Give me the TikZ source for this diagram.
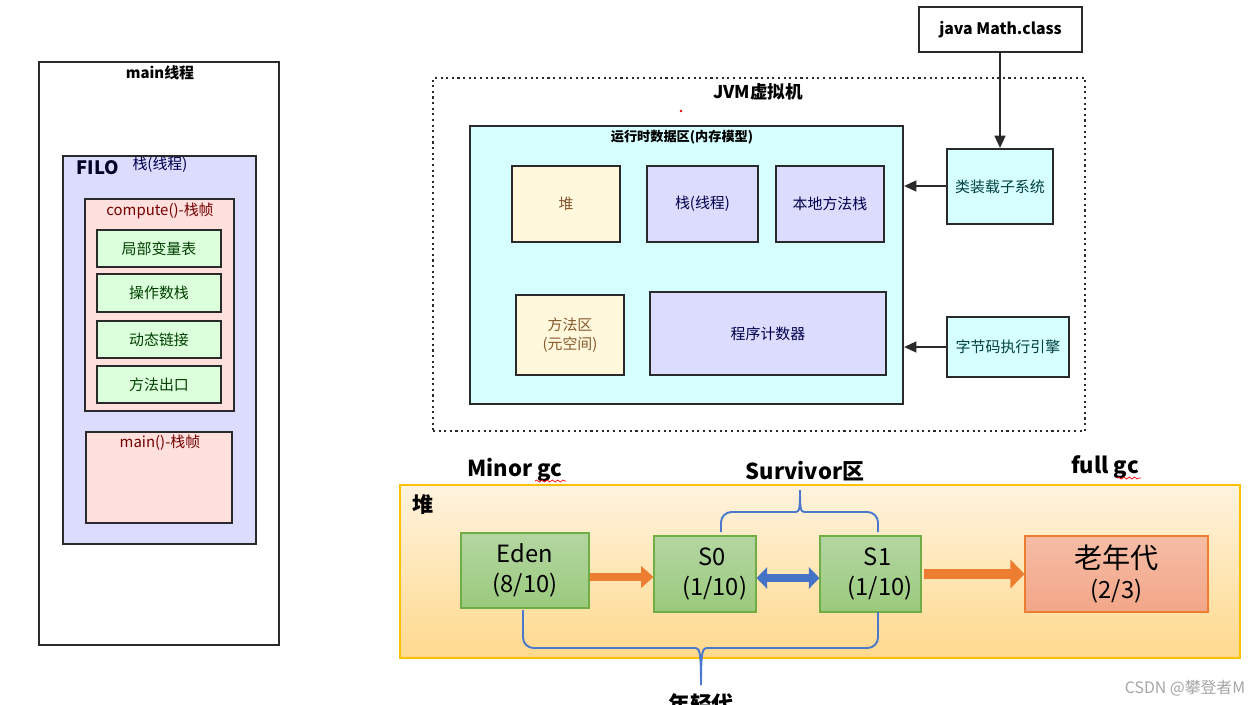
\documentclass[tikz,border=0pt]{standalone}
\usepackage{fontspec}
\setmainfont{Noto Sans CJK SC}
\usetikzlibrary{fit,arrows.meta,decorations.pathmorphing,calc}
\definecolor{lav}{HTML}{DCDCFF}
\definecolor{pinkf}{HTML}{FFE0DC}
\definecolor{greenf}{HTML}{DCFFDC}
\definecolor{cyanf}{HTML}{D6FFFF}
\definecolor{yelf}{HTML}{FFF8DC}
\definecolor{edgec}{HTML}{2A2A2A}
\definecolor{gtop}{HTML}{B4D6A2}
\definecolor{gbot}{HTML}{9ACA7C}
\definecolor{gedge}{HTML}{70AD47}
\definecolor{otop}{HTML}{F5BCA5}
\definecolor{obot}{HTML}{F3A688}
\definecolor{oedge}{HTML}{ED7D31}
\definecolor{htop}{HTML}{FFF3DE}
\definecolor{hbot}{HTML}{FFD98E}
\definecolor{hedge}{HTML}{FFC000}
\definecolor{bluec}{HTML}{4472C4}
\definecolor{bracec}{HTML}{4A78CC}
\begin{document}
\begin{tikzpicture}[x=0.02cm,y=-0.02cm,
  box/.style={draw=edgec,line width=1.1pt,inner sep=0pt},
  small/.style={font=\fontsize{8.5}{10.5}\selectfont},
  gbox/.style={box,fill=greenf},
  gtxt/.style={small,text=green!25!black},
  lbox/.style={box,fill=lav},
  ltxt/.style={small,text=blue!30!black},
  ybox/.style={box,fill=yelf},
  ytxt/.style={small,text=brown!70!black,align=center},
  cbox/.style={box,fill=cyanf},
  ctxt/.style={small,text=teal!50!black},
  conn/.style={draw=edgec,line width=1.4pt,-{Triangle[length=7pt,width=6pt]}},
  heapbox/.style={draw=gedge,line width=0.6pt,top color=gtop,bottom color=gbot,inner sep=0pt},
  htxt/.style={font=\fontsize{13.5}{17}\selectfont,align=center},
  big/.style={font=\bfseries\fontsize{12.5}{14}\selectfont},
  brace/.style={draw=bracec,line width=1.1pt,rounded corners=6pt},
  bracel/.style={draw=bracec,line width=1.1pt},
  squig/.style={draw=red,line width=0.4pt,decorate,decoration={snake,amplitude=0.6pt,segment length=3pt}}
]
\useasboundingbox[fill=white] (0,0) rectangle (1260,704);

% ---------- left: main thread ----------
\node[box,fit={(39,62)(279,645)}] (mainth) {};
\node[font=\bfseries\fontsize{8.5}{10}\selectfont] (mainlbl) at (160,73) {main线程};
\node[box,fill=lav,fit={(63,156)(256,544)}] (stk) {};
\node[font=\bfseries\fontsize{10.5}{12}\selectfont,text=blue!15!black] (filo) at (98,168) {FILO};
\node[small,text=blue!30!black] (stklbl) at (160,165) {栈(线程)};
\node[box,fill=pinkf,fit={(85,199)(234,411)}] (comp) {};
\node[small,text=red!45!black] (complbl) at (160,211) {compute()-栈帧};
\node[gbox,fit={(97,230)(221,267)}] (g1) {};
\node[gtxt] at (g1.center) {局部变量表};
\node[gbox,fit={(97,274)(221,312)}] (g2) {};
\node[gtxt] at (g2.center) {操作数栈};
\node[gbox,fit={(97,321)(221,358)}] (g3) {};
\node[gtxt] at (g3.center) {动态链接};
\node[gbox,fit={(97,366)(221,403)}] (g4) {};
\node[gtxt] at (g4.center) {方法出口};
\node[box,fill=pinkf,fit={(86,432)(232,523)}] (mainf) {};
\node[small,text=red!45!black] (mainflbl) at (160,443) {main()-栈帧};

% ---------- top right: JVM ----------
\node[box,fit={(919,7)(1082,52)}] (math) {};
\node[font=\bfseries\fontsize{9}{10}\selectfont] at (math.center) {java Math.class};
\node[draw=edgec,line width=1.2pt,dotted,fit={(433,78)(1085,431)},inner sep=0pt] (jvm) {};
\node[font=\bfseries\fontsize{10}{12}\selectfont] (jvmlbl) at (758,92) {JVM虚拟机};
\fill[red] (681,111) circle (1.3);
\node[box,fill=cyanf,fit={(470,126)(903,404)}] (rt) {};
\node[font=\bfseries\fontsize{7.5}{9}\selectfont] (rtlbl) at (682,137) {运行时数据区(内存模型)};
\node[ybox,fit={(512,166)(620,242)}] (heap) {};
\node[ytxt] at (heap.center) {堆};
\node[lbox,fit={(647,166)(758,242)}] (stack) {};
\node[ltxt] at (stack.center) {栈(线程)};
\node[lbox,fit={(776,166)(884,242)}] (native) {};
\node[ltxt] at (native.center) {本地方法栈};
\node[ybox,fit={(516,295)(624,375)}] (method) {};
\node[ytxt] at (method.center) {方法区\\(元空间)};
\node[lbox,fit={(650,292)(886,375)}] (pc) {};
\node[ltxt] at (pc.center) {程序计数器};
\node[cbox,fit={(947,149)(1053,224)}] (loader) {};
\node[ctxt] at (loader.center) {类装载子系统};
\node[cbox,fit={(947,317)(1069,377)}] (engine) {};
\node[ctxt] at (engine.center) {字节码执行引擎};
\draw[conn] (math.south -| 1000,0) -- (loader.north -| 1000,0);
\draw[conn] (loader.west |- 0,186) -- (rt.east |- 0,186);
\draw[conn] (engine.west |- 0,347) -- (rt.east |- 0,347);

% ---------- bottom: heap ----------
\node[draw=hedge,line width=0.6pt,top color=htop,bottom color=hbot,inner sep=0pt,fit={(400,485)(1240,658)}] (heapbig) {};
\node[font=\bfseries\fontsize{12}{14}\selectfont] (heaplbl) at (423,505) {堆};
\node[big] (minor) at (515,470) {Minor gc};
\node[big] (surv) at (805,471) {Survivor区};
\node[big] (full) at (1105,467) {full gc};
\draw[squig] (535,481) -- (566,481);
\draw[squig] (1117,478) -- (1141,478);
\node[heapbox,fit={(461,533)(589,608)}] (eden) {};
\node[htxt] at (eden.center) {Eden\\(8/10)};
\node[heapbox,fit={(654,536)(756,612)}] (s0) {};
\node[htxt] at ([xshift=4]s0.center) {S0\\\ (1/10)};
\node[heapbox,fit={(820,536)(921,612)}] (s1) {};
\node[htxt] at ([xshift=4]s1.center) {S1\\\ (1/10)};
\node[draw=oedge,line width=0.6pt,top color=otop,bottom color=obot,inner sep=0pt,fit={(1025,536)(1208,612)}] (old) {};
\node[htxt] at (old.center) {\fontsize{16}{19}\selectfont 老年代\\(2/3)};
\draw[draw=oedge,line width=4.5pt,-{Triangle[length=7pt,width=12pt]}] (eden.east |- 0,577) -- (s0.west |- 0,577);
\draw[draw=bluec,line width=4.5pt,{Triangle[length=6pt,width=12pt]}-{Triangle[length=6pt,width=12pt]}] (s0.east |- 0,578) -- (s1.west |- 0,578);
\draw[draw=oedge,line width=6pt,-{Triangle[length=8pt,width=16pt]}] ($(s1.east |- 0,574)+(2,0)$) -- (old.west |- 0,574);

% braces
\coordinate (tb1) at (721,532);
\coordinate (tb2) at (878,532);
\draw[brace] (tb1) -- (721,512) -- (796,512);
\draw[bracel] (796,512) .. controls (800,512) and (800,505) .. (800,490);
\draw[bracel] (804,512) .. controls (800,512) and (800,505) .. (800,490);
\draw[brace] (804,512) -- (878,512) -- (tb2);
\coordinate (bb1) at (523,610);
\coordinate (bb2) at (878,612);
\draw[brace] (bb1) -- (523,648) -- (696,648);
\draw[bracel] (696,648) .. controls (700,648) and (701,656) .. (701,685);
\draw[bracel] (706,648) .. controls (702,648) and (701,656) .. (701,685);
\draw[brace] (706,648) -- (878,648) -- (bb2);
\node[big] (young) at (701,704) {年轻代};

\node[font=\fontsize{9}{10}\selectfont,text=gray!70] (csdn) at (1185,688) {CSDN @攀登者M};
\end{tikzpicture}
\end{document}
